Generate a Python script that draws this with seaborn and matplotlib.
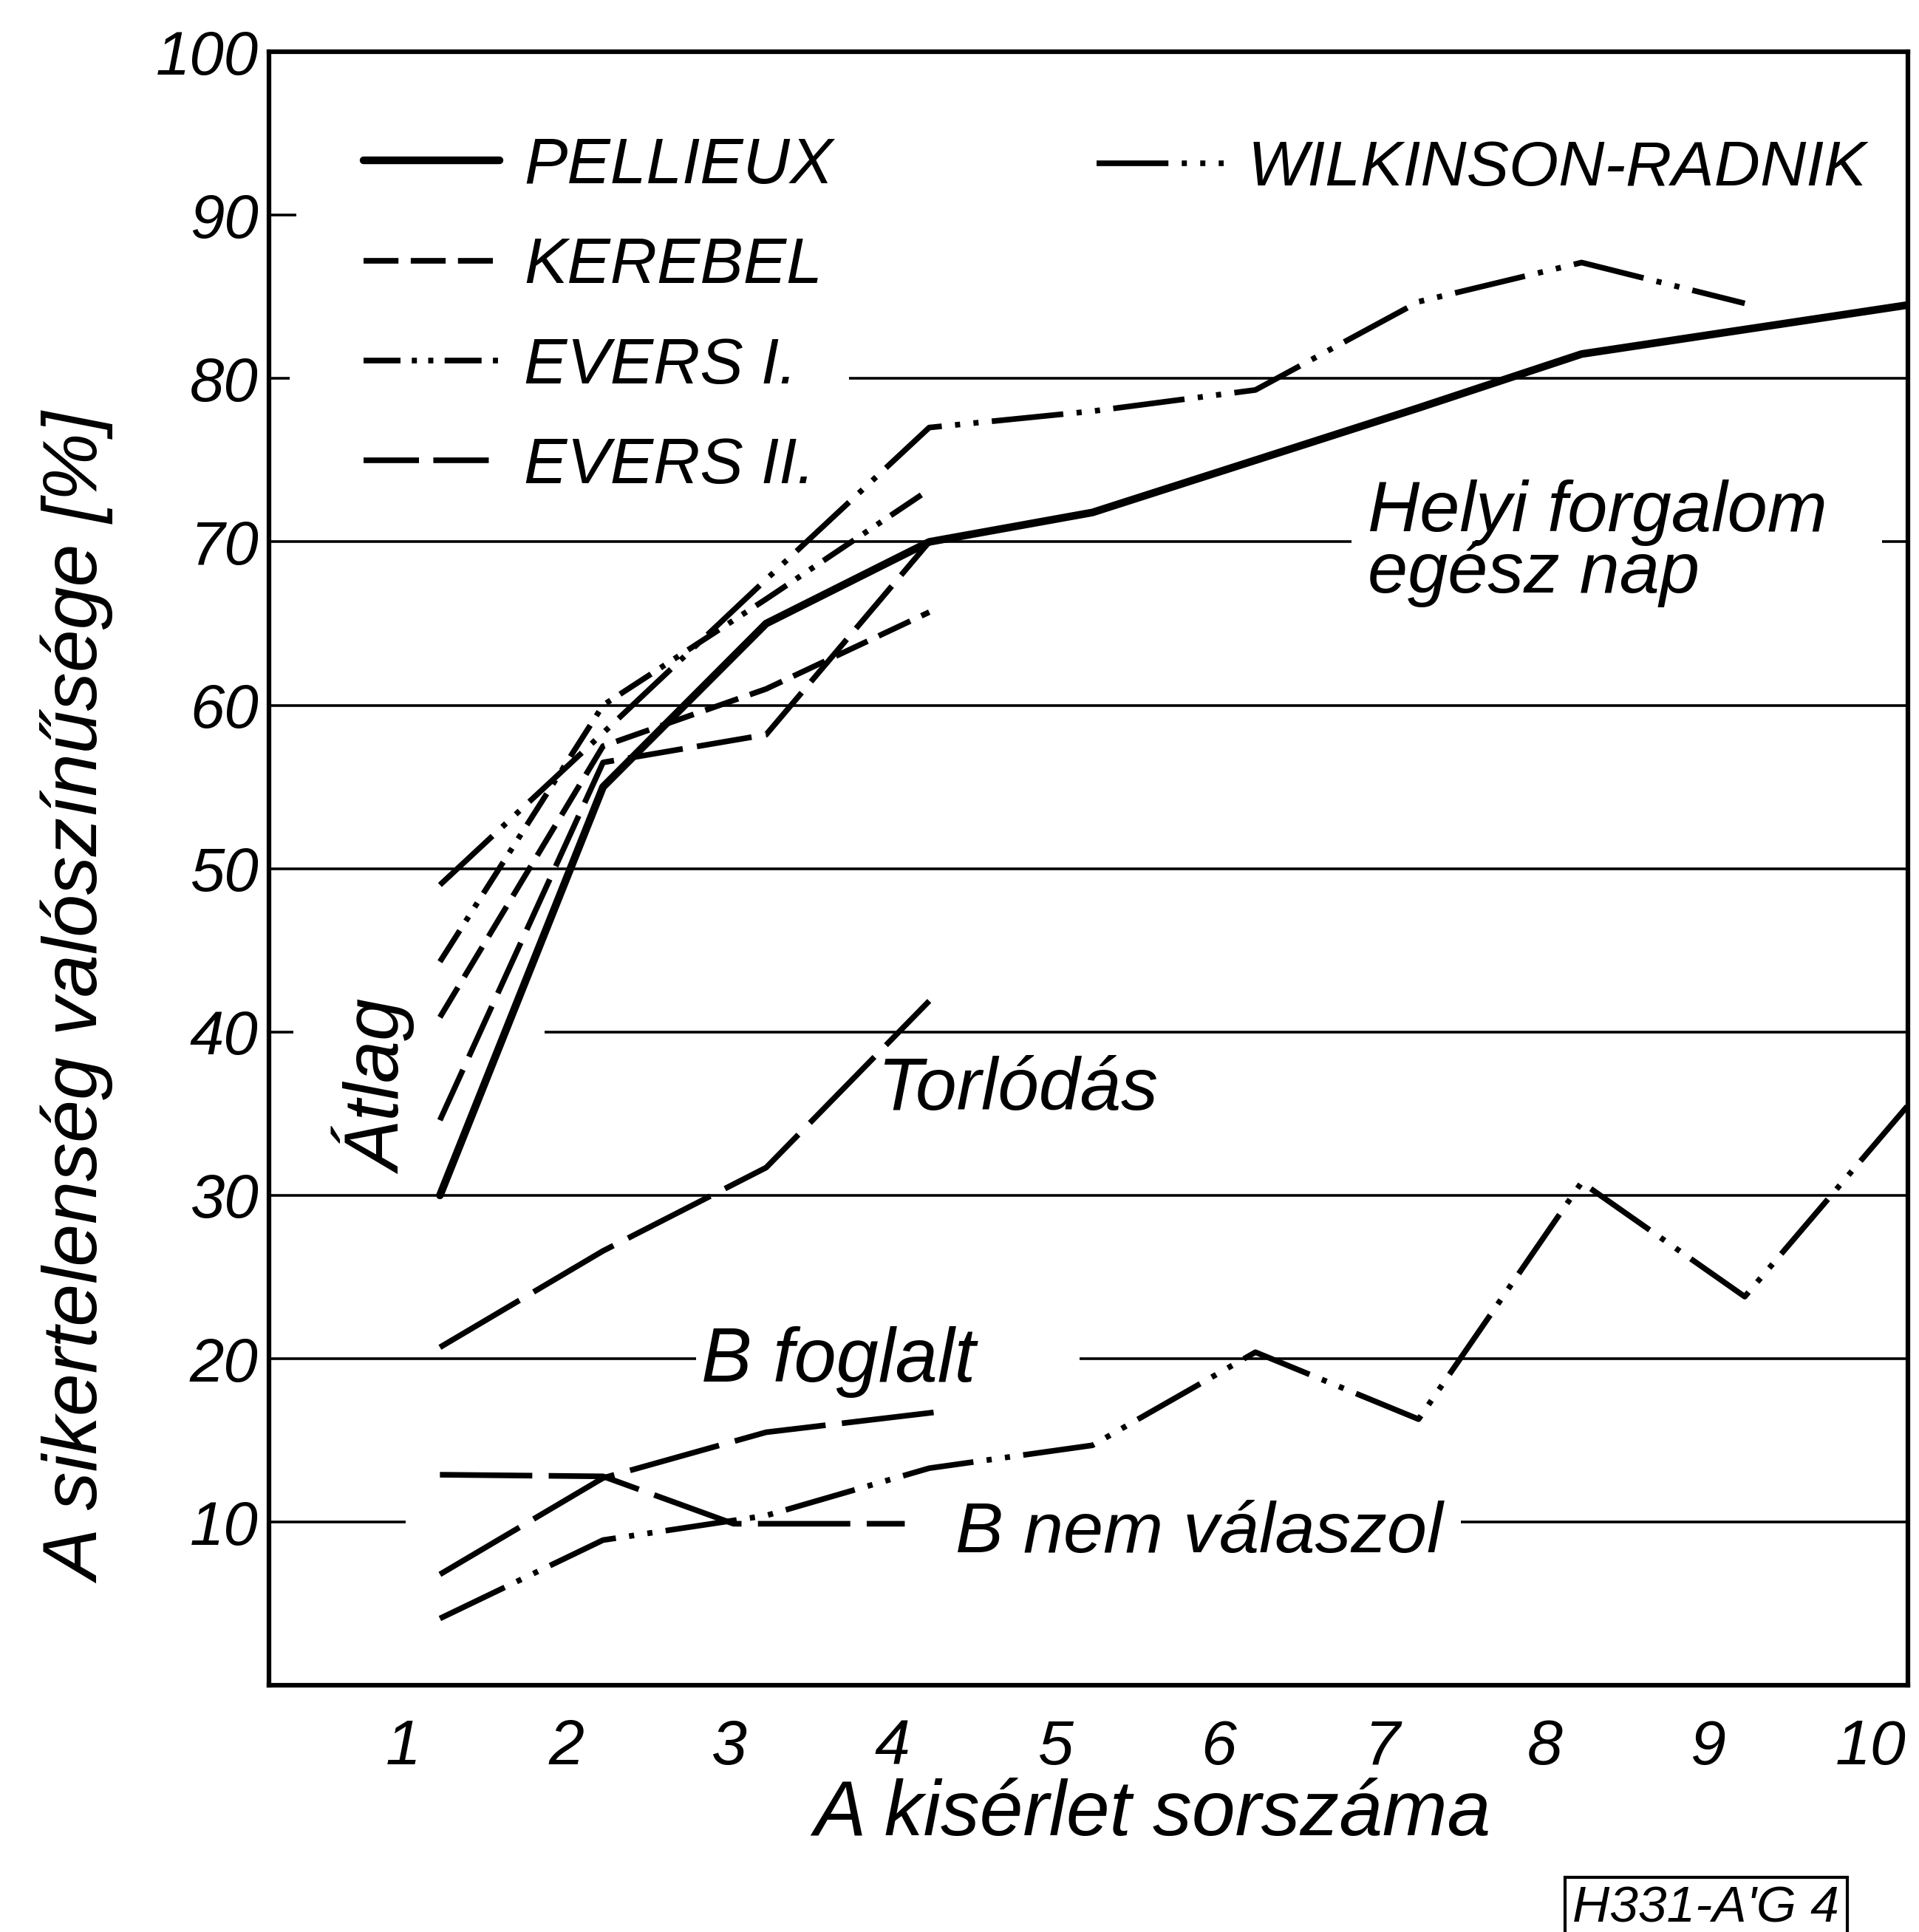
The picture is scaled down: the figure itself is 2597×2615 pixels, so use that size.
import matplotlib
matplotlib.use("Agg")
import matplotlib.pyplot as plt
import matplotlib.transforms as mtransforms
from matplotlib.lines import Line2D
import seaborn as sns

# trial number on x, failure probability [%] on y
trials = [1, 2, 3, 4, 5, 6, 7, 8, 9, 10]
first_four = [1, 2, 3, 4]

pellieux = [30, 55, 65, 70, 71.8, 75, 78.2, 81.5, 83, 84.5]
wilkinson_x = [1, 2, 3, 4, 5, 6, 7, 8, 9]
wilkinson = [49, 58.3, 67.7, 77, 78, 79.3, 84.7, 87.1, 84.6]
kerebel = [40.9, 57.5, 61, 65.7]
evers_1 = [44.3, 60, 66.5, 73.2]
evers_2 = [34.6, 56.5, 58.2, 70]

torlodas = [20.7, 26.6, 31.7, 41.9]
b_foglalt_x = [1, 2, 3, 4.1]
b_foglalt = [6.8, 12.7, 15.5, 16.8]
b_nem_x = [1, 2, 2.8, 3.85]
b_nem_valaszol = [12.9, 12.8, 9.9, 9.9]
wilkinson_low = [4.1, 8.9, 10.4, 13.3, 14.7, 20.4, 16.3, 30.8, 23.8, 35.5]

y_ticks = [10, 20, 30, 40, 50, 60, 70, 80, 90, 100]

# dash patterns in points
SOLID = None
KEREBEL_DASH = (34, 12)
EVERS1_DASH = (36, 11, 5, 11, 5, 11)
EVERS2_DASH = (54, 14)
WR_DASH = (70, 13, 5, 13, 5, 13)
LONG_DASH = (90, 16)
LW = 5.5

sns.set_theme(style="white")
plt.rcParams["font.family"] = ["Liberation Sans", "DejaVu Sans"]
plt.rcParams["lines.scale_dashes"] = False
plt.rcParams["text.color"] = "black"
plt.rcParams["axes.labelcolor"] = "black"

fig = plt.figure(figsize=(25.97, 26.15), dpi=100)
ax = fig.add_axes([0.140, 0.1276, 0.8542, 0.8456])


def draw(x, y, dash, lw=LW):
    ls = "-" if dash is None else (0, dash)
    sns.lineplot(x=x, y=y, ax=ax, color="black", linewidth=lw, linestyle=ls,
                 estimator=None, sort=False, legend=False, zorder=3)


draw(trials, pellieux, SOLID, lw=7.5)
draw(wilkinson_x, wilkinson, WR_DASH)
draw(first_four, kerebel, KEREBEL_DASH)
draw(first_four, evers_1, EVERS1_DASH)
draw(first_four, evers_2, EVERS2_DASH)
draw(first_four, torlodas, LONG_DASH)
draw(b_foglalt_x, b_foglalt, LONG_DASH)
draw(b_nem_x, b_nem_valaszol, LONG_DASH)
draw(trials, wilkinson_low, WR_DASH)

ax.set_xlim(-0.05, 10.0)
ax.set_ylim(0, 100)

# hand-drawn horizontal rules, broken around the labels
grid_segments = {
    90: [(-0.05, 0.12)],
    80: [(-0.05, 0.08), (3.51, 10.0)],
    70: [(-0.05, 6.59), (9.84, 10.0)],
    60: [(-0.05, 10.0)],
    50: [(-0.05, 10.0)],
    40: [(-0.05, 0.10), (1.64, 10.0)],
    30: [(-0.05, 10.0)],
    20: [(-0.05, 2.57), (4.92, 10.0)],
    10: [(-0.05, 0.79), (7.26, 10.0)],
}
for level, segs in grid_segments.items():
    for x0, x1 in segs:
        ax.hlines(level, x0, x1, color="black", lw=2.6, zorder=1)

for sp in ax.spines.values():
    sp.set_visible(True)
    sp.set_color("black")
    sp.set_linewidth(4.5)

ax.set_xticks(trials)
ax.set_xticklabels([str(t) for t in trials])
ax.set_yticks(y_ticks)
ax.set_yticklabels([str(t) for t in y_ticks])
ax.tick_params(axis="x", length=0, pad=32, labelsize=62, colors="black")
ax.tick_params(axis="y", length=0, pad=10, labelsize=60, colors="black")
shift = mtransforms.ScaledTranslation(-0.5, 0, fig.dpi_scale_trans)
for lbl in ax.get_xticklabels():
    lbl.set_fontstyle("italic")
    lbl.set_transform(lbl.get_transform() + shift)
for lbl in ax.get_yticklabels():
    lbl.set_fontstyle("italic")

ax.set_ylabel("A sikertelenség valószínűsége [%]", fontsize=75,
              fontstyle="italic", va="center")
ax.yaxis.set_label_coords(-0.115, 0.42)
ax.set_xlabel("A kisérlet sorszáma", fontsize=76, fontstyle="italic", va="center")
ax.xaxis.set_label_coords(0.539, -0.079)

# legends
def handle(dash, lw=LW):
    ls = "-" if dash is None else (0, dash)
    return Line2D([], [], color="black", lw=lw, linestyle=ls)

leg1 = ax.legend(
    [handle(SOLID, 7.5), handle(KEREBEL_DASH), handle(EVERS1_DASH), handle(EVERS2_DASH)],
    ["PELLIEUX", "KEREBEL", "EVERS I.", "EVERS II."],
    loc="upper left", bbox_to_anchor=(0.058, 0.948), frameon=False,
    borderpad=0, borderaxespad=0, handlelength=2.1, handletextpad=0.38,
    labelspacing=0.62, prop={"size": 63, "style": "italic"},
)
ax.add_artist(leg1)
ax.legend(
    [handle(WR_DASH)], ["WILKINSON-RADNIK"],
    loc="upper left", bbox_to_anchor=(0.505, 0.946), frameon=False,
    borderpad=0, borderaxespad=0, handlelength=2.0, handletextpad=0.38,
    prop={"size": 62, "style": "italic"},
)

# curve labels
ax.text(6.69, 73.8, "Helyi forgalom\negész nap", fontsize=70, fontstyle="italic",
        ha="left", va="top", linespacing=0.88, zorder=4)
ax.text(3.68, 36.4, "Torlódás", fontsize=72, fontstyle="italic", ha="left", va="center")
ax.text(2.6, 19.8, "B foglalt", fontsize=74, fontstyle="italic", ha="left", va="center")
ax.text(4.16, 9.3, "B nem válaszol", fontsize=70, fontstyle="italic", ha="left", va="center")
ax.text(0.61, 36.6, "Átlag", fontsize=74, fontstyle="italic", rotation=90,
        ha="center", va="center")

fig.text(0.889, 0.012, "H331-A'G 4", fontsize=50, fontstyle="italic",
         ha="center", va="center",
         bbox=dict(boxstyle="square,pad=0.15", fc="white", ec="black", lw=3))

fig.savefig("out.png", dpi=100, facecolor="white")
